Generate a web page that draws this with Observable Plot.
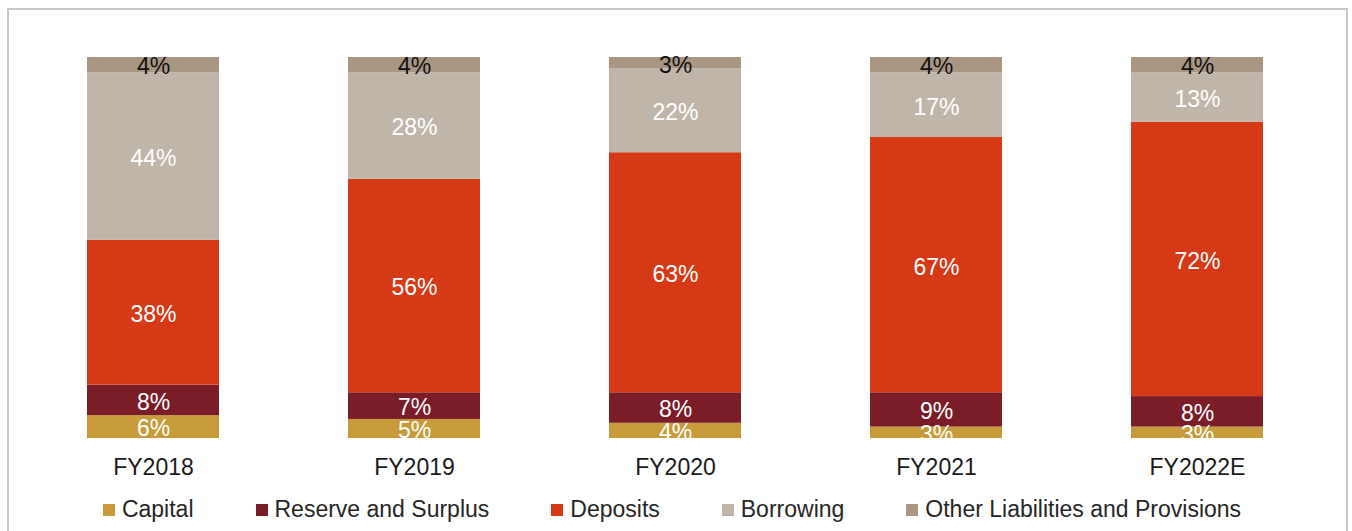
<!DOCTYPE html>
<html>
<head>
<meta charset="utf-8">
<script src="https://cdn.jsdelivr.net/npm/d3@7"></script>
<script src="https://cdn.jsdelivr.net/npm/@observablehq/plot@0.6"></script>
<style>
  html, body { margin: 0; padding: 0; background: #fff; overflow: hidden; }
  #wrap { position: relative; width: 1352px; height: 531px; overflow: hidden; font-family: "Liberation Sans", Arial, sans-serif; }
  #frame { position: absolute; left: 7px; top: 8px; width: 1337px; height: 600px; border: 2px solid #c8c8c8; box-sizing: content-box; }
  #chart { position: absolute; left: 0; top: 0; }
  #legend { position: absolute; left: -4px; top: 496px; width: 1352px; display: flex; justify-content: center; gap: 62px; font-size: 23px; color: #262626; }
  .item { display: flex; align-items: center; gap: 7px; }
  .sw { width: 12px; height: 12px; display: inline-block; }
</style>
</head>
<body>
<div id="wrap">
  <div id="frame"></div>
  <div id="chart"></div>
  <div id="legend"></div>
</div>
<script>
const categories = ["FY2018", "FY2019", "FY2020", "FY2021", "FY2022E"];
const seriesNames = ["Capital", "Reserve and Surplus", "Deposits", "Borrowing", "Other Liabilities and Provisions"];
const capital   = [6, 5, 4, 3, 3];
const reserve   = [8, 7, 8, 9, 8];
const deposits  = [38, 56, 63, 67, 72];
const borrowing = [44, 28, 22, 17, 13];
const other     = [4, 4, 3, 4, 4];
const seriesColors = ["#C89B3A", "#7B1C29", "#D53916", "#BFB6A9", "#A89683"];

const seriesValues = [capital, reserve, deposits, borrowing, other];
const data = [];
seriesNames.forEach((s, si) => {
  categories.forEach((c, ci) => {
    data.push({ year: c, series: s, value: seriesValues[si][ci], label: seriesValues[si][ci] + "%" });
  });
});
const otherName = seriesNames[4];

const stackOpts = { x: "year", y: "value", z: "series", order: seriesNames };

const chart = Plot.plot({
  width: 1352,
  height: 480,
  marginTop: 57,
  marginBottom: 42,
  marginLeft: 8,
  marginRight: 10,
  style: { fontFamily: "'Liberation Sans', Arial, sans-serif", fontSize: "23px", color: "#1a1a1a", background: "transparent" },
  x: { domain: categories, paddingInner: 0.493, paddingOuter: 0.3, tickSize: 0, tickPadding: 20, label: null },
  y: { domain: [0, 100], axis: null },
  color: { domain: seriesNames, range: seriesColors },
  marks: [
    Plot.barY(data, Plot.stackY({ ...stackOpts, fill: "series" })),
    Plot.text(data, Plot.stackY({ ...stackOpts, text: d => d.series !== otherName ? d.label : "", fill: "white", fontSize: 23, dy: 2, clip: true })),
    Plot.text(data, Plot.stackY({ ...stackOpts, text: d => d.series === otherName ? d.label : "", fill: "#111", fontSize: 23, dy: 2 }))
  ]
});
document.getElementById("chart").appendChild(chart);

const legend = document.getElementById("legend");
seriesNames.forEach((s, i) => {
  const item = document.createElement("div");
  item.className = "item";
  const sw = document.createElement("span");
  sw.className = "sw";
  sw.style.background = seriesColors[i];
  const t = document.createElement("span");
  t.textContent = s;
  item.appendChild(sw);
  item.appendChild(t);
  legend.appendChild(item);
});
</script>
</body>
</html>
